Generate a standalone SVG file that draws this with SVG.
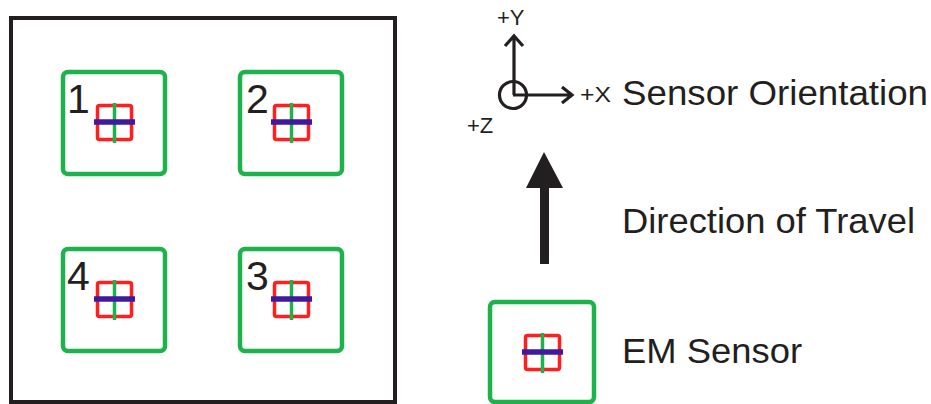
<svg xmlns="http://www.w3.org/2000/svg" width="931" height="404" viewBox="0 0 931 404">
<defs>
<style>
.frame{fill:none;stroke:#231f20;stroke-width:4}
.box{fill:none;stroke:#1db24b;stroke-width:4.5}
.sq{fill:none;stroke:#ff1f1f;stroke-width:3.5}
.bl{stroke:#3d1a9e;stroke-width:5.5}
.gl{stroke:#1db24b;stroke-width:3.5}
.ax{fill:none;stroke:#231f20;stroke-width:3.2}
.num{font-family:"Liberation Sans",Arial,sans-serif;font-size:41px;fill:#231f20}
.lbl{font-family:"Liberation Sans",Arial,sans-serif;font-size:35px;fill:#231f20}
.axl{font-family:"Liberation Sans",Arial,sans-serif;font-size:22px;fill:#231f20}
</style>
<g id="sensor">
<rect class="sq" x="97.5" y="105.5" width="34" height="34" rx="2"/>
<line class="gl" x1="114.5" y1="103" x2="114.5" y2="143"/>
<line class="bl" x1="94" y1="122" x2="135" y2="122"/>
</g>
</defs>
<rect class="frame" x="11" y="18" width="384" height="384"/>
<g id="node1">
<rect class="box" x="63" y="72" width="102" height="102" rx="5"/>
<text class="num" x="67" y="113">1</text>
<use href="#sensor"/>
</g>
<g id="node2">
<rect class="box" x="240" y="72" width="102" height="102" rx="5"/>
<text class="num" x="246" y="113">2</text>
<use href="#sensor" x="177"/>
</g>
<g id="node4">
<rect class="box" x="63" y="249" width="102" height="102" rx="5"/>
<text class="num" x="67" y="290">4</text>
<use href="#sensor" y="177"/>
</g>
<g id="node3">
<rect class="box" x="240" y="249" width="102" height="102" rx="5"/>
<text class="num" x="246" y="290">3</text>
<use href="#sensor" x="177" y="177"/>
</g>
<g id="orientation">
<circle class="ax" cx="513" cy="95" r="13.5"/>
<path class="ax" d="M514 95 V36 M505 46 L514 36 L523 46"/>
<path class="ax" d="M513 95 H572 M562 87 L572 95 L562 103"/>
<text class="axl" x="497" y="25" font-size="23">+Y</text>
<text class="axl" x="580" y="102" textLength="31" lengthAdjust="spacingAndGlyphs">+X</text>
<text class="axl" x="467" y="133" font-size="23">+Z</text>
<text class="lbl" x="622" y="105" textLength="306" lengthAdjust="spacingAndGlyphs">Sensor Orientation</text>
</g>
<g id="connectors">
<path d="M540 264 V188 H526 L544 152 L563 188 H549 V264 Z" fill="#231f20"/>
</g>
<g id="travel">
<text class="lbl" x="622" y="233" textLength="293" lengthAdjust="spacingAndGlyphs">Direction of Travel</text>
</g>
<g id="em">
<rect class="box" x="490" y="302" width="104" height="100" rx="5"/>
<use href="#sensor" x="428" y="230"/>
<text class="lbl" x="622" y="363" textLength="180" lengthAdjust="spacingAndGlyphs">EM Sensor</text>
</g>
</svg>
